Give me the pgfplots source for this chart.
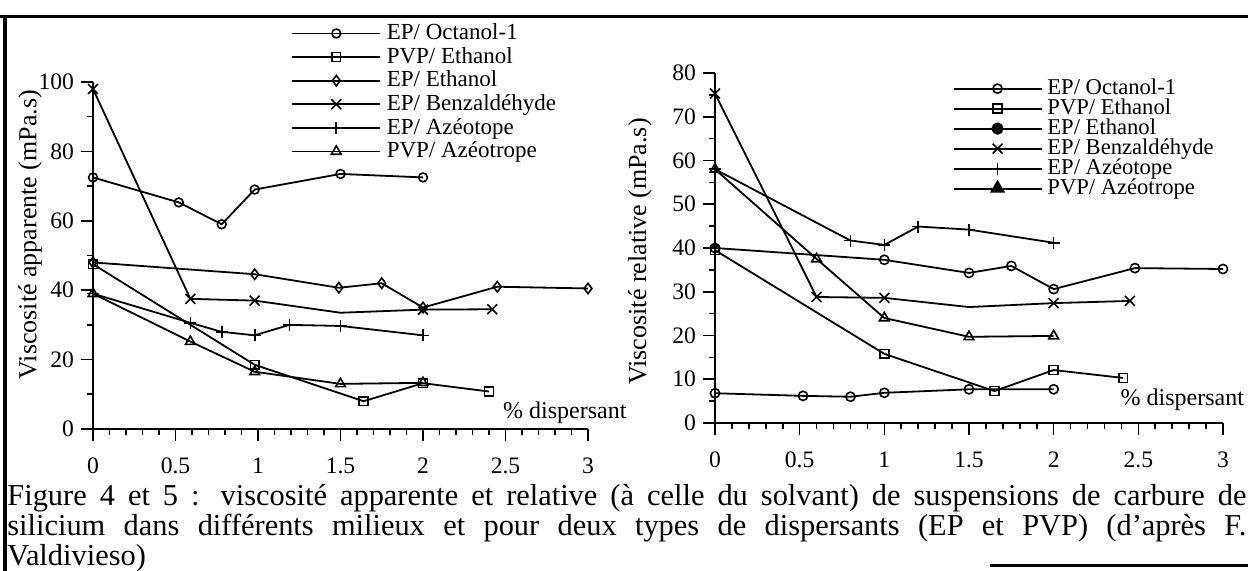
\documentclass[border=0pt]{standalone}
\usepackage{fontspec}
\setmainfont{Liberation Serif}
\usepackage{pgfplots}
\pgfplotsset{compat=1.18}

\pgfplotsset{
  viscaxis/.style={
    scale only axis,
    axis x line*=bottom, axis y line*=left,
    axis line style={line width=1pt},
    xmin=0, xmax=3, ymin=0,
    xtick={0,0.5,1,1.5,2,2.5,3}, minor x tick num=4,
    tick align=outside, major tick length=6pt, minor tick length=3pt,
    tick style={black, line width=0.8pt},
    tick label style={font=\fontsize{11.8}{12}\selectfont},
    /pgf/number format/assume math mode=true,
    xticklabel shift=5pt,
    label style={font=\fontsize{13}{14}\selectfont},
    clip=false,
    legend cell align=left,
    legend image code/.code={\draw[##1, mark indices={2}] plot coordinates {(0pt,0pt) (22pt,0pt) (44pt,0pt)};},
  },
  serie/.style={black, line width=0.9pt, mark options={solid, fill=white, line width=0.8pt}},
}

\begin{document}
\begin{tikzpicture}

% frame
\draw[line width=1.5pt] (-46.5pt,206pt) -- (577.5pt,206pt);
\draw[line width=1.8pt] (-44pt,206pt) -- (-44pt,-71pt);
\draw[line width=1.5pt] (448.5pt,-68.5pt) -- (577.5pt,-68.5pt);

% Figure 4 : viscosite apparente
\begin{axis}[viscaxis, at={(0pt,0pt)}, width=247.5pt, height=173.5pt, ymax=100,
  ytick={0,20,40,60,80,100}, minor y tick num=1,
  ylabel={Viscosité apparente (mPa.s)},
  ylabel style={at={(axis description cs:-0.127,0.56)}, anchor=center},
  legend style={at={(axis description cs:0.40,1.175)}, anchor=north west, draw=none, fill=none,
    inner sep=0pt, font=\fontsize{11.5}{12}\selectfont,
    nodes={inner sep=0.8pt, text height=8.2pt, text depth=2pt},
    /tikz/every odd column/.append style={column sep=2pt}}]
\addplot[serie, mark=o, mark size=2.2pt] coordinates {(0,72.5) (0.52,65.3) (0.78,59) (0.98,69) (1.5,73.5) (2,72.5)};
\addlegendentry{EP/ Octanol-1}
\addplot[serie, mark=square, mark size=2.2pt] coordinates {(0,47.5) (0.98,18.5) (1.64,8) (2.0,13.2) (2.4,10.8)};
\addlegendentry{PVP/ Ethanol}
\addplot[serie, mark=diamond, mark size=2.6pt] coordinates {(0,48) (0.98,44.6) (1.49,40.7) (1.75,42) (2.0,35) (2.45,41) (3.0,40.5)};
\addlegendentry{EP/ Ethanol}
\addplot[serie, mark=x, mark size=3.5pt, mark indices={1,2,3,5,6}] coordinates {(0,98) (0.59,37.5) (0.98,37) (1.5,33.5) (2.0,34.4) (2.42,34.5)};
\addlegendentry{EP/ Benzaldéhyde}
\addplot[serie, mark=+, mark size=3pt] coordinates {(0,39) (0.59,30.6) (0.78,28) (0.98,27) (1.19,30) (1.5,29.7) (2.0,27)};
\addlegendentry{EP/ Azéotope}
\addplot[serie, mark=triangle, mark size=2.8pt] coordinates {(0,39) (0.59,25.2) (0.98,16.5) (1.5,13) (2.0,13.3)};
\addlegendentry{PVP/ Azéotrope}
\node[anchor=center, font=\fontsize{12}{12}\selectfont] at (axis cs:2.86,4.8) {\% dispersant};
\end{axis}

% Figure 5 : viscosite relative
\begin{axis}[viscaxis, at={(311pt,3pt)}, width=254pt, height=175pt, ymax=80,
  ytick={0,10,20,30,40,50,60,70,80}, minor y tick num=1,
  ylabel={Viscosité relative (mPa.s)},
  ylabel style={at={(axis description cs:-0.148,0.49)}, anchor=center},
  legend style={at={(axis description cs:0.467,0.985)}, anchor=north west, draw=none, fill=none,
    inner sep=0pt, font=\fontsize{11.3}{11.3}\selectfont,
    nodes={inner sep=0.5pt, text height=7.3pt, text depth=1.7pt},
    /tikz/every odd column/.append style={column sep=2pt}}]
\addplot[serie, mark=o, mark size=2.3pt] coordinates {(0,6.8) (0.52,6.2) (0.8,6) (1.0,6.9) (1.5,7.7) (2.0,7.7)};
\addlegendentry{EP/ Octanol-1}
\addplot[serie, mark=square, mark size=2.2pt] coordinates {(0,39.5) (1.0,15.8) (1.65,7.3) (2.0,12.1) (2.41,10.3)};
\addlegendentry{PVP/ Ethanol}
\addplot[serie, mark=o, mark size=2.3pt,
  legend image code/.code={\draw[black, line width=0.9pt] (0pt,0pt) -- (44pt,0pt); \fill[black] (22pt,0pt) circle (2.6pt);}]
  coordinates {(0,40) (1.0,37.3) (1.5,34.3) (1.75,35.9) (2.0,30.6) (2.48,35.4) (3.0,35.2)};
\addlegendentry{EP/ Ethanol}
\addplot[serie, mark=x, mark size=3.5pt, mark indices={1,2,3,5,6}] coordinates {(0,75.3) (0.6,28.8) (1.0,28.6) (1.5,26.5) (2.0,27.4) (2.45,27.9)};
\addlegendentry{EP/ Benzaldéhyde}
\addplot[serie, mark=+, mark size=3pt] coordinates {(0,58) (0.8,41.7) (1.0,40.7) (1.2,44.9) (1.5,44.2) (2.0,41.2)};
\addlegendentry{EP/ Azéotope}
\addplot[serie, mark=triangle, mark size=2.8pt,
  legend image code/.code={\draw[black, line width=0.9pt] (0pt,0pt) -- (44pt,0pt); \fill[black] (19pt,-1.5pt) -- (25pt,-1.5pt) -- (22pt,3.5pt) -- cycle;}]
  coordinates {(0,58) (0.6,37.5) (1.0,24) (1.5,19.7) (2.0,19.9)};
\addlegendentry{PVP/ Azéotrope}
\node[anchor=center, font=\fontsize{12}{12}\selectfont] at (axis cs:2.76,5.3) {\% dispersant};
\end{axis}

% caption
\node[anchor=north west, inner sep=0pt, text width=619.5pt, align=justify,
  font=\fontsize{15.2}{12.9}\selectfont] at (-43pt,-27.5pt)
  {Figure 4 et 5 : viscosité apparente et relative (à celle du solvant) de suspensions de carbure de\linebreak
   silicium dans différents milieux et pour deux types de dispersants (EP et PVP) (d{\char"27}après F.\linebreak
   Valdivieso)};

\pgfresetboundingbox
\path[use as bounding box] (-46.5pt,-71pt) rectangle (577.5pt,214.5pt);
\end{tikzpicture}
\end{document}
